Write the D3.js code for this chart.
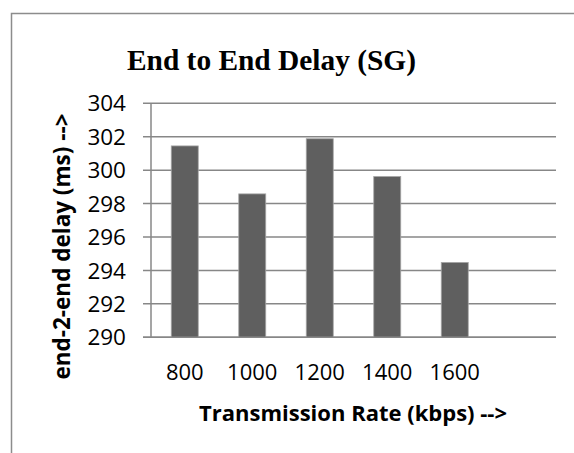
<!DOCTYPE html>
<html><head><meta charset="utf-8">
<script src="https://cdn.jsdelivr.net/npm/d3@7"></script>
<style>html,body{margin:0;padding:0;background:#fff;}svg{display:block;}</style>
</head><body>
<svg id="chart" width="574" height="453"></svg>
<script>
const title = "End to End Delay (SG)";
const categories = ["800", "1000", "1200", "1400", "1600"];
const delays = [301.45, 298.58, 301.88, 299.62, 294.48];
const yTicks = [290, 292, 294, 296, 298, 300, 302, 304];
const xTitle = "Transmission Rate (kbps) -->";
const yTitle = "end-2-end delay (ms) -->";

const svg = d3.select("#chart");
const plotLeft = 151, plotRight = 556, plotTop = 103.3, plotBottom = 337.3;

// outer frame
svg.append("rect").attr("x", 11.5).attr("y", 13.5).attr("width", 600).attr("height", 500)
  .attr("fill", "none").attr("stroke", "#8c8c8c").attr("stroke-width", 1.5);

const x = d3.scaleBand().domain([...categories, "_blank"]).range([plotLeft, plotRight])
  .paddingInner(0.6).paddingOuter(0.3);
const y = d3.scaleLinear().domain([290, 304]).range([plotBottom, plotTop]);

// gridlines + tick marks
svg.append("g").selectAll("line").data(yTicks).join("line")
  .attr("x1", plotLeft - 8).attr("x2", plotRight)
  .attr("y1", d => y(d)).attr("y2", d => y(d))
  .attr("stroke", "#878787").attr("stroke-width", 1.5);

// y axis line
svg.append("line").attr("x1", plotLeft).attr("x2", plotLeft).attr("y1", plotTop).attr("y2", plotBottom)
  .attr("stroke", "#878787").attr("stroke-width", 1.5);

// bars
svg.append("g").selectAll("rect").data(categories).join("rect")
  .attr("x", d => x(d)).attr("width", x.bandwidth())
  .attr("y", (d, i) => y(delays[i])).attr("height", (d, i) => y(290) - y(delays[i]))
  .attr("fill", "#5f5f5f").attr("stroke", "#a6a6a6").attr("stroke-width", 0.8);

// x axis baseline on top
svg.append("line").attr("x1", plotLeft - 8).attr("x2", plotRight).attr("y1", plotBottom).attr("y2", plotBottom)
  .attr("stroke", "#878787").attr("stroke-width", 1.5);

const font = "'Open Sans', 'Noto Sans', sans-serif";
// y tick labels
svg.append("g").selectAll("text").data(yTicks).join("text")
  .attr("x", 126).attr("y", d => y(d)).attr("dy", "0.36em")
  .attr("text-anchor", "end").attr("font-family", font).attr("font-size", 22.5)
  .attr("fill", "#000").text(d => d);

// x tick labels
svg.append("g").selectAll("text").data(categories).join("text")
  .attr("x", d => x(d) + x.bandwidth() / 2).attr("y", 380)
  .attr("text-anchor", "middle").attr("font-family", font).attr("font-size", 22)
  .attr("fill", "#000").text(d => d);

// title
svg.append("text").attr("x", 271.5).attr("y", 70).attr("text-anchor", "middle")
  .attr("font-family", "'Liberation Serif', 'Times New Roman', serif").attr("font-weight", "bold")
  .attr("font-size", 29.4).attr("fill", "#000").text(title);

// x title
svg.append("text").attr("x", 353).attr("y", 421).attr("text-anchor", "middle")
  .attr("font-family", font).attr("font-weight", "bold").attr("font-size", 22)
  .attr("fill", "#000").text(xTitle);

// y title
svg.append("text").attr("transform", "translate(70,246.5) rotate(-90)").attr("text-anchor", "middle")
  .attr("font-family", font).attr("font-weight", "bold").attr("font-size", 22.5)
  .attr("fill", "#000").text(yTitle);
</script>
</body></html>
